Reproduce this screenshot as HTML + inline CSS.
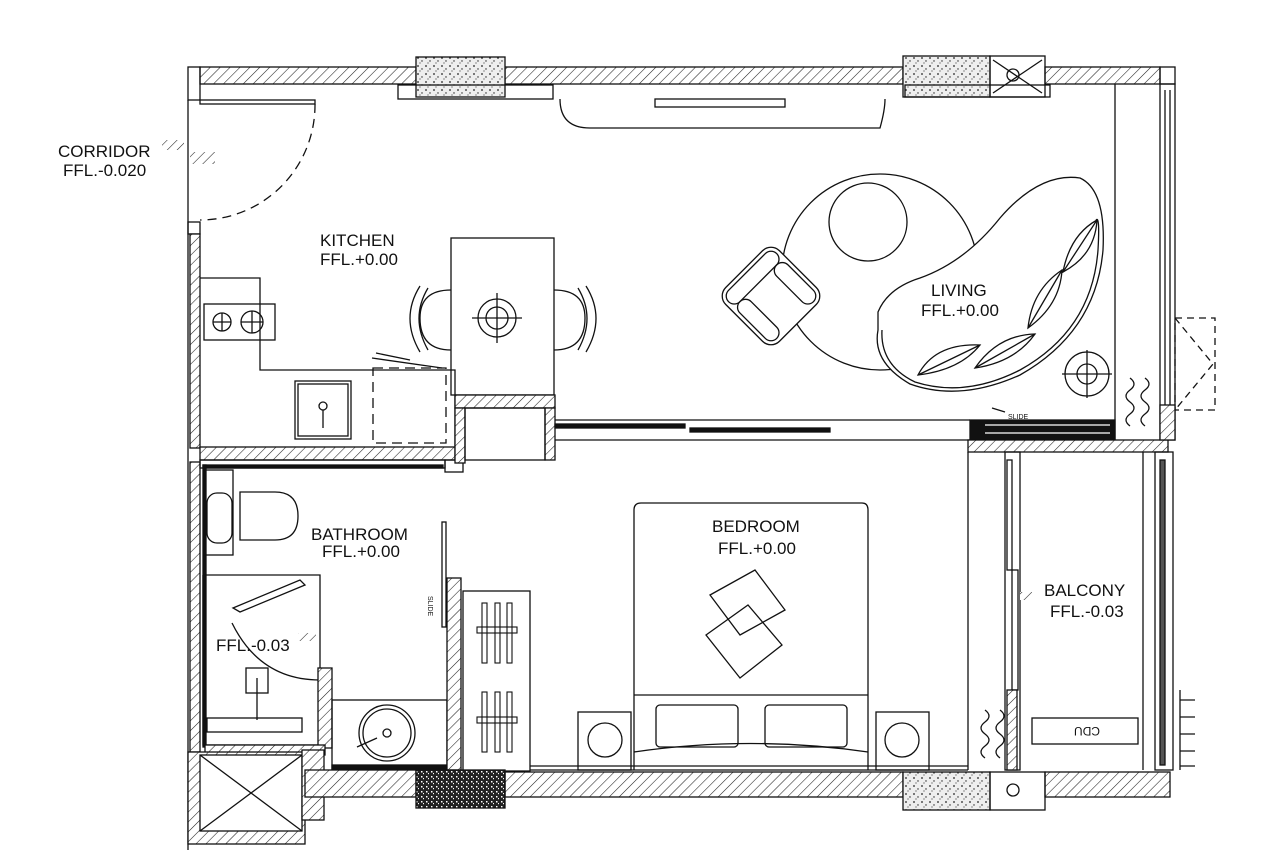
<!DOCTYPE html>
<html><head><meta charset="utf-8"><style>
html,body{margin:0;padding:0;background:#fff;}
svg{display:block}
text{font-family:"Liberation Sans",sans-serif;fill:#111}
</style></head><body>
<svg width="1280" height="864" viewBox="0 0 1280 864" xmlns="http://www.w3.org/2000/svg">
<defs>
<pattern id="h" width="7" height="7" patternUnits="userSpaceOnUse" patternTransform="rotate(45)">
<rect width="7" height="7" fill="#fff"/><line x1="0" y1="0" x2="0" y2="7" stroke="#222" stroke-width="1.1"/>
</pattern>
<pattern id="sp" width="8" height="8" patternUnits="userSpaceOnUse">
<rect width="8" height="8" fill="#eee"/><circle cx="2" cy="2" r="0.9" fill="#222"/><circle cx="6" cy="5" r="0.7" fill="#222"/><circle cx="4" cy="7" r="0.6" fill="#444"/>
</pattern>
<pattern id="dn" width="5" height="5" patternUnits="userSpaceOnUse">
<rect width="5" height="5" fill="#222"/><rect x="1" y="1" width="1.5" height="1.5" fill="#fff"/><rect x="3" y="3" width="1" height="1.2" fill="#fff"/>
</pattern>
</defs>
<g stroke="#111" stroke-width="1.3" fill="none">
<!-- top wall -->
<rect x="200" y="67" width="216" height="17" fill="url(#h)"/>
<rect x="505" y="67" width="398" height="17" fill="url(#h)"/>
<rect x="1045" y="67" width="115" height="17" fill="url(#h)"/>
<rect x="188" y="67" width="12" height="33"/>
<rect x="1160" y="67" width="15" height="17"/>
<rect x="416" y="57" width="89" height="40" fill="url(#sp)"/>
<rect x="903" y="56" width="87" height="41" fill="url(#sp)"/>
<rect x="990" y="56" width="55" height="41"/>
<line x1="993" y1="60" x2="1042" y2="93"/><line x1="1042" y1="60" x2="993" y2="93"/>
<circle cx="1013" cy="75" r="6"/>
<rect x="398" y="85" width="155" height="14"/>
<rect x="905" y="85" width="145" height="12"/>
<path d="M560 99 Q560 128 590 128 L880 128 Q885 110 885 99"/>
<rect x="655" y="99" width="130" height="8"/>
<!-- left wall & door -->
<line x1="188" y1="100" x2="188" y2="850"/>
<rect x="200" y="100" width="115" height="4"/>
<path d="M315 104 A115 115 0 0 1 200 220" stroke-dasharray="9 6"/>
<rect x="188" y="222" width="12" height="12"/>
<rect x="190" y="234" width="10" height="214" fill="url(#h)"/>
<rect x="162" y="140" width="22" height="10" fill="url(#h)" stroke="none"/>
<rect x="190" y="152" width="25" height="12" fill="url(#h)" stroke="none"/>
<!-- kitchen counter -->
<path d="M200 278 L260 278 L260 370 L455 370 L455 447"/>
<rect x="204" y="304" width="71" height="36"/>
<circle cx="222" cy="322" r="9"/><circle cx="252" cy="322" r="11"/>
<line x1="213" y1="322" x2="231" y2="322"/><line x1="222" y1="313" x2="222" y2="331"/>
<line x1="241" y1="322" x2="263" y2="322"/><line x1="252" y1="311" x2="252" y2="333"/>
<rect x="295" y="381" width="56" height="58"/><rect x="298" y="384" width="50" height="52"/>
<circle cx="323" cy="406" r="4"/><line x1="323" y1="410" x2="323" y2="428"/>
<rect x="373" y="368" width="73" height="75" stroke-dasharray="10 6"/>
<line x1="376" y1="353" x2="410" y2="360"/><line x1="372" y1="358" x2="442" y2="368"/>
<!-- table & chairs -->
<rect x="451" y="238" width="103" height="157"/>
<circle cx="497" cy="318" r="19"/><circle cx="497" cy="318" r="11"/>
<line x1="472" y1="318" x2="522" y2="318"/><line x1="497" y1="293" x2="497" y2="343"/>
<path d="M451 290 Q420 290 420 318 Q420 350 451 350"/>
<path d="M420 286 Q400 318 420 352 M428 288 Q410 318 428 350"/>
<path d="M554 290 Q585 290 585 318 Q585 350 554 350"/>
<path d="M586 286 Q606 318 586 352 M578 288 Q596 318 578 350"/>
<!-- kitchen bottom / closet -->
<rect x="200" y="447" width="255" height="13" fill="url(#h)"/>
<rect x="445" y="460" width="18" height="12"/>
<rect x="455" y="395" width="100" height="13" fill="url(#h)"/>
<rect x="455" y="408" width="10" height="55" fill="url(#h)"/>
<rect x="545" y="408" width="10" height="52" fill="url(#h)"/>
<rect x="465" y="408" width="80" height="52"/>
<!-- living/bedroom divider -->
<line x1="555" y1="420" x2="970" y2="420"/><line x1="555" y1="440" x2="970" y2="440"/>
<rect x="555" y="424" width="130" height="4" fill="#111"/>
<rect x="690" y="428" width="140" height="4" fill="#111"/>
<rect x="970" y="420" width="145" height="20" fill="#111"/>
<line x1="985" y1="425" x2="1110" y2="425" stroke="#fff"/><line x1="985" y1="433" x2="1110" y2="433" stroke="#fff"/>
<line x1="992" y1="408" x2="1005" y2="412"/>
<!-- right wall -->
<line x1="1115" y1="84" x2="1115" y2="440"/>
<rect x="1160" y="84" width="15" height="356"/>
<line x1="1165" y1="90" x2="1165" y2="430"/><line x1="1170" y1="90" x2="1170" y2="430"/>
<rect x="1175" y="318" width="40" height="92" stroke-dasharray="7 5"/>
<path d="M1175 318 L1213 364 L1175 410" stroke-dasharray="7 5"/>
<rect x="968" y="440" width="200" height="12" fill="url(#h)"/>
<rect x="1160" y="405" width="15" height="35" fill="url(#h)"/>
<!-- living furniture -->
<circle cx="880" cy="272" r="98"/>
<circle cx="868" cy="222" r="39"/>
<path d="M878 312 Q888 288 920 278 Q965 262 1000 218 Q1040 172 1080 178 Q1106 190 1103 250 Q1096 332 1020 375 Q960 402 910 384 Q872 362 878 330 Z" fill="#fff"/>
<path d="M882 330 Q880 365 915 382 Q965 398 1020 370 Q1092 330 1098 250 Q1100 215 1096 220"/>
<path d="M918 375 Q935 343 980 345 Q960 370 918 375 Z M975 368 Q998 335 1035 334 Q1015 362 975 368 Z M1028 328 Q1032 290 1062 270 Q1060 305 1028 328 Z M1063 272 Q1070 235 1097 220 Q1095 255 1063 272 Z"/>
<line x1="918" y1="375" x2="980" y2="345"/><line x1="975" y1="368" x2="1035" y2="334"/><line x1="1028" y1="328" x2="1062" y2="270"/><line x1="1063" y1="272" x2="1097" y2="220"/>
<g transform="rotate(-45 771 296)"><rect x="733" y="258" width="76" height="76" rx="12" fill="#fff"/><rect x="737" y="262" width="68" height="16" rx="8"/><rect x="737" y="278" width="16" height="52" rx="8"/><rect x="789" y="278" width="16" height="52" rx="8"/></g>
<circle cx="1087" cy="374" r="22"/><circle cx="1087" cy="374" r="10"/>
<line x1="1062" y1="374" x2="1112" y2="374"/><line x1="1087" y1="350" x2="1087" y2="398"/>
<path d="M1130 378 q8 6 0 12 q-8 6 0 12 q8 6 0 12 q-8 6 0 12 M1145 378 q8 6 0 12 q-8 6 0 12 q8 6 0 12 q-8 6 0 12"/>
<!-- bathroom -->
<rect x="190" y="462" width="10" height="290" fill="url(#h)"/>
<rect x="200" y="460" width="245" height="8"/>
<rect x="203" y="465" width="3" height="282" fill="#111"/>
<rect x="203" y="465" width="240" height="3" fill="#111"/>
<rect x="205" y="470" width="28" height="85"/>
<path d="M240 492 L275 492 Q298 492 298 516 Q298 540 275 540 L240 540 Z"/>
<rect x="207" y="493" width="25" height="50" rx="10"/>
<path d="M203 575 L320 575 L320 680"/>
<path d="M203 575 L203 745 L330 745"/>
<path d="M233 608 L300 580 L305 585 L240 612 Z"/>
<path d="M232 623 Q260 680 320 680"/>
<rect x="246" y="668" width="22" height="25"/><line x1="257" y1="678" x2="257" y2="720"/>
<rect x="207" y="718" width="95" height="14"/>
<rect x="318" y="668" width="14" height="80" fill="url(#h)"/>
<rect x="205" y="745" width="120" height="10" fill="url(#h)"/>
<rect x="188" y="752" width="117" height="92" fill="url(#h)"/>
<rect x="200" y="755" width="102" height="76" fill="#fff"/>
<line x1="200" y1="755" x2="302" y2="831"/><line x1="302" y1="755" x2="200" y2="831"/>
<rect x="302" y="750" width="22" height="70" fill="url(#h)"/>
<rect x="332" y="700" width="115" height="70"/>
<rect x="332" y="765" width="115" height="4" fill="#111"/>
<circle cx="387" cy="733" r="28"/><circle cx="387" cy="733" r="24"/><circle cx="387" cy="733" r="4"/>
<line x1="357" y1="747" x2="377" y2="738"/>
<rect x="442" y="522" width="4" height="105"/>
<rect x="447" y="578" width="14" height="192" fill="url(#h)"/>
<rect x="463" y="591" width="67" height="180"/>
<g stroke-width="1.1">
<rect x="482" y="603" width="5" height="60"/><rect x="495" y="603" width="5" height="60"/><rect x="507" y="603" width="5" height="60"/>
<rect x="477" y="627" width="40" height="6"/>
<rect x="482" y="692" width="5" height="60"/><rect x="495" y="692" width="5" height="60"/><rect x="507" y="692" width="5" height="60"/>
<rect x="477" y="717" width="40" height="6"/>
</g>
<!-- bedroom -->
<path d="M634 770 L634 510 Q634 503 641 503 L862 503 Q868 503 868 510 L868 770"/>
<line x1="634" y1="695" x2="868" y2="695"/>
<rect x="656" y="705" width="82" height="42" rx="4"/><rect x="765" y="705" width="82" height="42" rx="4"/>
<path d="M634 752 Q750 735 868 752"/>
<rect x="578" y="712" width="53" height="58"/><circle cx="605" cy="740" r="17"/>
<rect x="876" y="712" width="53" height="58"/><circle cx="902" cy="740" r="17"/>
<path d="M710 595 L755 570 L785 610 L740 635 Z"/>
<path d="M706 635 L748 605 L782 645 L740 678 Z"/>
<!-- bottom wall -->
<rect x="305" y="770" width="111" height="27" fill="url(#h)"/>
<rect x="505" y="772" width="398" height="25" fill="url(#h)"/>
<rect x="1045" y="772" width="125" height="25" fill="url(#h)"/>
<rect x="416" y="770" width="89" height="38" fill="url(#dn)"/>
<rect x="903" y="772" width="87" height="38" fill="url(#sp)"/>
<rect x="990" y="772" width="55" height="38"/>
<circle cx="1013" cy="790" r="6"/>
<line x1="530" y1="766" x2="968" y2="766"/><line x1="530" y1="770" x2="968" y2="770"/>
<!-- balcony -->
<line x1="968" y1="452" x2="968" y2="770"/>
<rect x="1005" y="452" width="15" height="318"/>
<rect x="1007" y="460" width="5" height="110"/><rect x="1012" y="570" width="6" height="120"/>
<rect x="1007" y="690" width="10" height="80" fill="url(#h)"/>
<line x1="1143" y1="452" x2="1143" y2="770"/>
<rect x="1155" y="452" width="18" height="318"/>
<rect x="1160" y="460" width="5" height="305" fill="#555"/>
<path d="M1180 690 v80 M1180 700 h15 M1180 717 h15 M1180 734 h15 M1180 751 h15 M1180 766 h15"/>
<rect x="1032" y="718" width="106" height="26"/>
<path d="M985 710 q8 6 0 12 q-8 6 0 12 q8 6 0 12 q-8 6 0 12 M1000 710 q8 6 0 12 q-8 6 0 12 q8 6 0 12 q-8 6 0 12"/>
<rect x="1020" y="592" width="12" height="8" fill="url(#h)" stroke="none"/>
<rect x="298" y="633" width="18" height="8" fill="url(#h)" stroke="none"/>
</g>
<g font-size="17">
<text x="58" y="157">CORRIDOR</text><text x="63" y="176">FFL.-0.020</text>
<text x="320" y="246">KITCHEN</text><text x="320" y="265">FFL.+0.00</text>
<text x="931" y="296">LIVING</text><text x="921" y="316">FFL.+0.00</text>
<text x="311" y="540">BATHROOM</text><text x="322" y="557">FFL.+0.00</text>
<text x="712" y="532">BEDROOM</text><text x="718" y="554">FFL.+0.00</text>
<text x="1044" y="596">BALCONY</text><text x="1050" y="617">FFL.-0.03</text>
<text x="216" y="651">FFL.-0.03</text>
</g>
<text x="1008" y="419" font-size="7">SLIDE</text>
<text x="1070" y="743" font-size="12" transform="rotate(180 1085 735)">CDU</text>
<text x="0" y="0" font-size="7" transform="translate(428 596) rotate(90)">SLIDE</text>
</svg>
</body></html>
